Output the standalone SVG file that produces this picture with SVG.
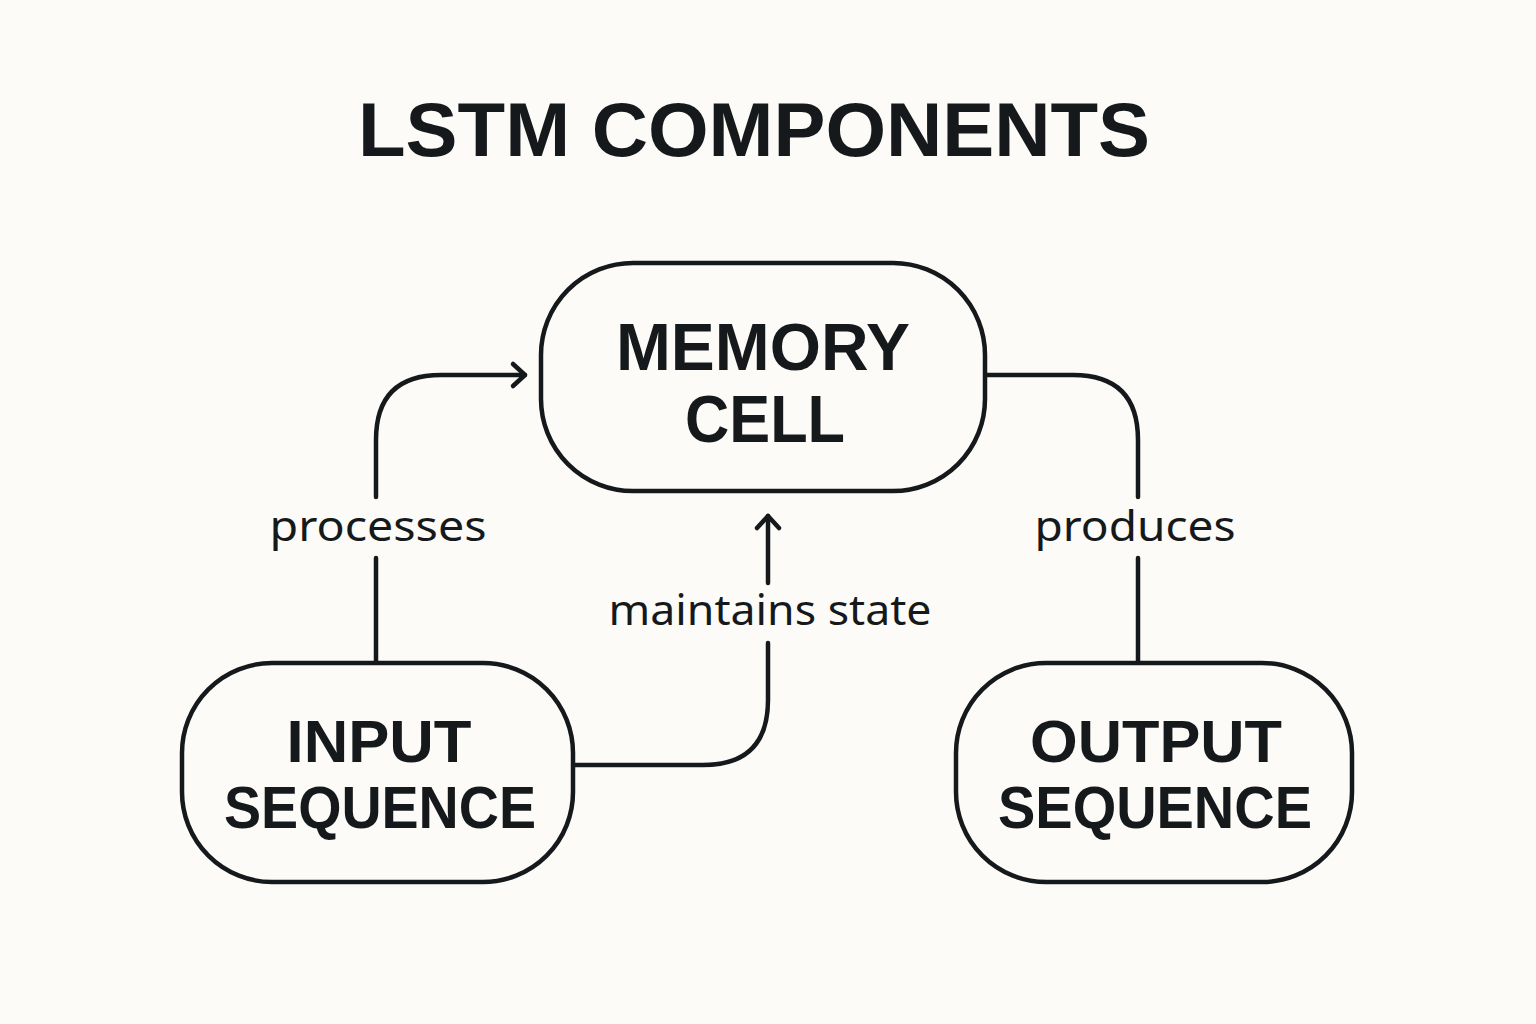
<svg xmlns="http://www.w3.org/2000/svg" width="1536" height="1024" viewBox="0 0 1536 1024">
  <defs>
    <style>
      .node { fill: none; stroke: #16191c; stroke-width: 4.5; }
      .edge { fill: none; stroke: #16191c; stroke-width: 4.5; stroke-linecap: round; stroke-linejoin: round; }
      .title { font-family: "Liberation Sans", Arial, sans-serif; font-weight: bold; font-size: 76px; fill: #16191c; text-anchor: middle; }
      .ntext { font-family: "Liberation Sans", Arial, sans-serif; font-weight: bold; fill: #16191c; text-anchor: middle; }
      .lbl { font-family: "Noto Sans", "DejaVu Sans", sans-serif; font-size: 41px; fill: #16191c; text-anchor: middle; }
    </style>
    <marker id="arr" viewBox="0 0 24 30" refX="20" refY="15" markerWidth="24" markerHeight="30" markerUnits="userSpaceOnUse" orient="auto">
      <path d="M8,4 L20,15 L8,26" fill="none" stroke="#16191c" stroke-width="4.5" stroke-linecap="round" stroke-linejoin="round"/>
    </marker>
  </defs>
  <rect width="1536" height="1024" fill="#fcfbf7"/>
  <text class="title" x="754" y="156" textLength="792" lengthAdjust="spacingAndGlyphs">LSTM COMPONENTS</text>

  <g id="connectors">
    <path class="edge" d="M376,661 L376,558"/>
    <path class="edge" d="M376,497 L376,440 Q376,375 441,375 L525,375" marker-end="url(#arr)"/>
    <path class="edge" d="M575,765 L703,765 Q768,765 768,700 L768,643"/>
    <path class="edge" d="M768,583 L768,516" marker-end="url(#arr)"/>
    <path class="edge" d="M987,375 L1073,375 Q1138,375 1138,440 L1138,497"/>
    <path class="edge" d="M1138,558 L1138,661"/>
    <text class="lbl" x="378" y="541" textLength="217" lengthAdjust="spacingAndGlyphs">processes</text>
    <text class="lbl" x="770" y="625" textLength="323" lengthAdjust="spacingAndGlyphs">maintains state</text>
    <text class="lbl" x="1135" y="541" textLength="201" lengthAdjust="spacingAndGlyphs">produces</text>
  </g>

  <g id="memory-cell">
    <rect class="node" x="541" y="263" width="444" height="228" rx="92"/>
    <text class="ntext" x="763" y="370" font-size="66" textLength="294" lengthAdjust="spacingAndGlyphs">MEMORY</text>
    <text class="ntext" x="765" y="442" font-size="66" textLength="160" lengthAdjust="spacingAndGlyphs">CELL</text>
  </g>

  <g id="input-sequence">
    <rect class="node" x="182" y="663" width="391" height="219" rx="90"/>
    <text class="ntext" x="379" y="762" font-size="60" textLength="185" lengthAdjust="spacingAndGlyphs">INPUT</text>
    <text class="ntext" x="380" y="828" font-size="60" textLength="312" lengthAdjust="spacingAndGlyphs">SEQUENCE</text>
  </g>

  <g id="output-sequence">
    <rect class="node" x="956" y="663" width="396" height="219" rx="90"/>
    <text class="ntext" x="1156" y="762" font-size="60" textLength="252" lengthAdjust="spacingAndGlyphs">OUTPUT</text>
    <text class="ntext" x="1155" y="828" font-size="60" textLength="314" lengthAdjust="spacingAndGlyphs">SEQUENCE</text>
  </g>
</svg>
